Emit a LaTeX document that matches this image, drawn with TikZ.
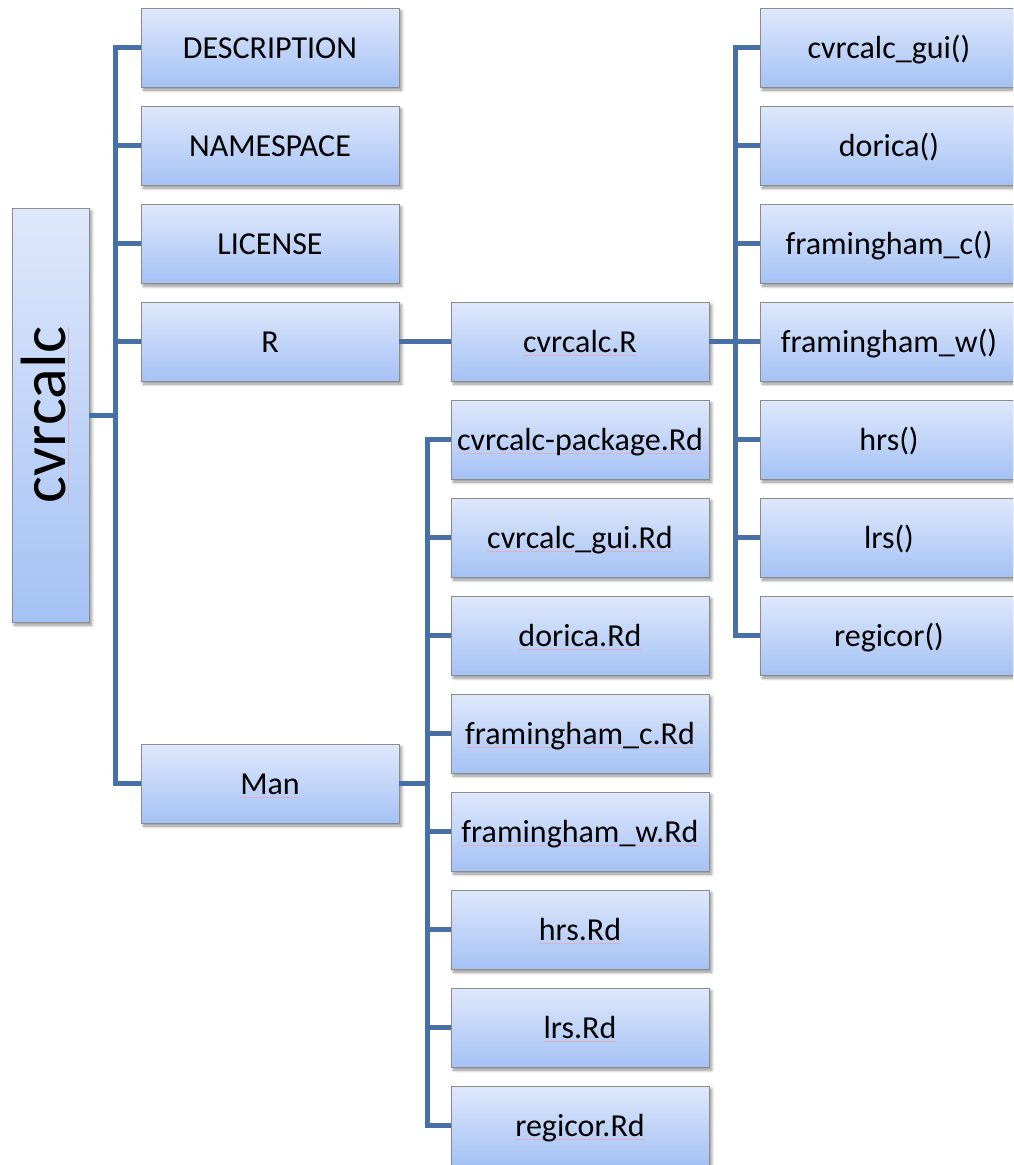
\documentclass[tikz,border=0pt]{standalone}
\usepackage{fontspec}
\setmainfont{Carlito}
\usetikzlibrary{shadows,shadows.blur}

\definecolor{linkblue}{HTML}{4670A6}
\definecolor{boxtop}{HTML}{DEE8FB}
\definecolor{boxbot}{HTML}{A5C2F5}
\definecolor{boxedge}{HTML}{8C8C8C}
\definecolor{spellpink}{HTML}{E2AFC2}

% word with a faint underline, as a spell checker marks it
\newcommand{\spellmark}[1]{\setbox0\hbox{#1}\rlap{\color{spellpink}\rule[-3.2pt]{\wd0}{1.1pt}}\box0}

\tikzset{
  filebox/.style={
    rectangle, draw=boxedge, line width=0.9pt,
    top color=boxtop, bottom color=boxbot,
    minimum width=258pt, minimum height=79pt, inner sep=0pt,
    text height=25pt, text depth=3pt,
    font=\fontsize{32}{38}\selectfont,
    blur shadow={shadow xshift=2.5pt, shadow yshift=-3pt, shadow blur steps=6, shadow blur radius=3pt, shadow opacity=45}
  },
  rootbox/.style={
    filebox, minimum width=77pt, minimum height=414pt
  },
  link/.style={draw=linkblue, line width=5pt, line join=miter}
}

\begin{document}
\begin{tikzpicture}[x=1pt, y=-1pt]
\useasboundingbox (0,0) rectangle (1013,1165);
\clip (0,0) rectangle (1013,1165);

% trunk positions
\coordinate (t1) at (115,0);
\coordinate (t2) at (427,0);
\coordinate (t3) at (735,0);

% package root
\node[rootbox] (root) at (50.5,415) {};
\node[rotate=90, font=\fontsize{64}{74}\selectfont, text height=44pt, text depth=15pt, inner sep=0pt] (rootlabel) at (51,415) {\spellmark{cvrcalc}};

% top-level files
\node[filebox] (desc) at (270,47.5)  {DESCRIPTION};
\node[filebox] (ns)   at (270,145.5) {NAMESPACE};
\node[filebox] (lic)  at (270,243.5) {LICENSE};
\node[filebox] (rdir) at (270,341.5) {R};
\node[filebox] (man)  at (270,783.5) {\spellmark{Man}};

% R sources
\node[filebox] (rfile) at (580,341.5) {\spellmark{cvrcalc.R}};

% functions in cvrcalc.R
\node[filebox] (f1) at (889,47.5)  {cvrcalc\_gui()};
\node[filebox] (f2) at (889,145.5) {dorica()};
\node[filebox] (f3) at (889,243.5) {framingham\_c()};
\node[filebox] (f4) at (889,341.5) {framingham\_w()};
\node[filebox] (f5) at (889,439.5) {hrs()};
\node[filebox] (f6) at (889,537.5) {lrs()};
\node[filebox] (f7) at (889,635.5) {regicor()};

% documentation files
\node[filebox] (m1) at (580,439.5)  {\spellmark{cvrcalc-package.Rd}};
\node[filebox] (m2) at (580,537.5)  {\spellmark{cvrcalc\_gui.Rd}};
\node[filebox] (m3) at (580,635.5)  {\spellmark{dorica.Rd}};
\node[filebox] (m4) at (580,733.5)  {\spellmark{framingham\_c.Rd}};
\node[filebox] (m5) at (580,831.5)  {\spellmark{framingham\_w.Rd}};
\node[filebox] (m6) at (580,929.5)  {\spellmark{hrs.Rd}};
\node[filebox] (m7) at (580,1027.5) {\spellmark{lrs.Rd}};
\node[filebox] (m8) at (580,1125.5) {\spellmark{regicor.Rd}};

% connectors: root level
\draw[link] (desc.west) -- (desc.west -| t1) |- (man.west);
\draw[link] (root.east) -- (root.east -| t1);
\foreach \n in {ns,lic,rdir}
  \draw[link] (\n.west) -- (\n.west -| t1);

% R folder to source file, and on to its functions
\draw[link] (rdir.east) -- (rfile.west);
\draw[link] (rfile.east) -- (f4.west);
\draw[link] (f1.west) -- (f1.west -| t3) -- (f7.west -| t3) -- (f7.west);
\foreach \n in {f2,f3,f5,f6}
  \draw[link] (\n.west) -- (\n.west -| t3);

% Man folder to documentation files
\draw[link] (man.east) -- (man.east -| t2);
\draw[link] (m1.west) -- (m1.west -| t2) -- (m8.west -| t2) -- (m8.west);
\foreach \n in {m2,m3,m4,m5,m6,m7}
  \draw[link] (\n.west) -- (\n.west -| t2);
\end{tikzpicture}
\end{document}
